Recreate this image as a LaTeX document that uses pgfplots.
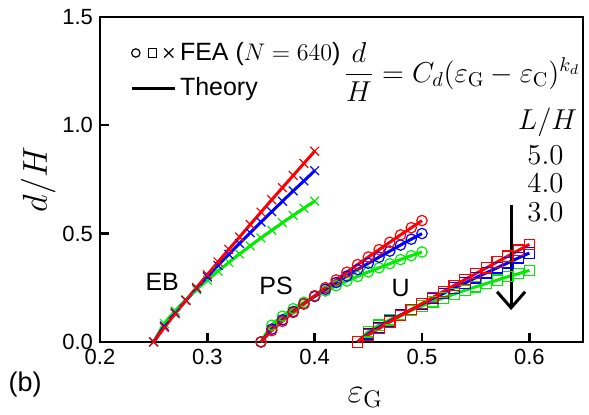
\documentclass[border=0pt]{standalone}
\usepackage{amsmath}
\usepackage[no-math]{fontspec}
\setmainfont{Liberation Sans}
\usepackage{pgfplots}
\pgfplotsset{compat=1.18}
\usepackage{pgfplotstable}
\usetikzlibrary{arrows.meta}

\definecolor{cR}{rgb}{1,0,0}
\definecolor{cB}{rgb}{0,0,1}
\definecolor{cG}{rgb}{0,0.93,0}

% columns: eps_G, L/H = 5.0 (r), 4.0 (b), 3.0 (g)
\pgfplotstableread{
x    r     b     g
0.25 0.000 0.000 0.000
0.26 0.067 0.073 0.085
0.27 0.130 0.134 0.143
0.28 0.191 0.192 0.194
0.29 0.251 0.247 0.241
0.30 0.310 0.300 0.285
0.31 0.369 0.353 0.327
0.32 0.427 0.404 0.367
0.33 0.484 0.454 0.406
0.34 0.542 0.504 0.443
0.35 0.599 0.553 0.480
0.36 0.656 0.601 0.515
0.37 0.712 0.649 0.550
0.38 0.768 0.697 0.584
0.39 0.824 0.743 0.617
0.40 0.880 0.790 0.650
}\ebdata

\pgfplotstableread{
x    r     b     g
0.35 0.000 0.000 0.000
0.36 0.052 0.059 0.077
0.37 0.095 0.102 0.119
0.38 0.136 0.140 0.153
0.39 0.175 0.176 0.183
0.40 0.213 0.210 0.210
0.41 0.250 0.243 0.235
0.42 0.286 0.274 0.259
0.43 0.322 0.304 0.281
0.44 0.357 0.334 0.302
0.45 0.392 0.363 0.323
0.46 0.426 0.391 0.342
0.47 0.460 0.419 0.361
0.48 0.494 0.447 0.380
0.49 0.527 0.474 0.398
0.50 0.560 0.500 0.415
}\psdata

\pgfplotstableread{
x    r     b     g
0.44 0.000 0.000 0.000
0.45 0.032 0.037 0.047
0.46 0.062 0.067 0.077
0.47 0.092 0.096 0.102
0.48 0.121 0.123 0.125
0.49 0.149 0.149 0.146
0.50 0.177 0.175 0.166
0.51 0.205 0.200 0.185
0.52 0.233 0.224 0.203
0.53 0.261 0.249 0.221
0.54 0.288 0.272 0.238
0.55 0.315 0.296 0.254
0.56 0.342 0.319 0.270
0.57 0.369 0.342 0.285
0.58 0.396 0.365 0.301
0.59 0.423 0.388 0.315
0.60 0.450 0.410 0.330
}\udata

\pgfplotsset{
  fea/.style={only marks, mark size=2.6pt, mark options={line width=0.6pt, fill=none, solid}},
  feax/.style={only marks, mark=x, mark size=3.1pt, mark options={line width=0.6pt, solid}},
  thy/.style={no marks, smooth, line width=1.5pt},
}

\begin{document}
\begin{tikzpicture}
\begin{axis}[
  scale only axis, width=241.5pt, height=162.5pt,
  xmin=0.2, xmax=0.65, ymin=0, ymax=1.5,
  xtick={0.2,0.3,0.4,0.5,0.6}, ytick={0,0.5,1,1.5},
  tick align=inside, xtick pos=bottom, ytick pos=left,
  major tick length=4.5pt,
  tick style={black, line width=1.2pt},
  axis line style={line width=1.2pt},
  /pgf/number format/assume math mode=true,
  /pgf/number format/fixed, /pgf/number format/fixed zerofill,
  /pgf/number format/precision=1,
  tick label style={font=\fontsize{11}{13}\selectfont},
  xlabel={$\varepsilon_{\mathrm{G}}$},
  xlabel style={at={(axis description cs:0.549,-0.172)}, anchor=center, font=\fontsize{17}{19}\selectfont},
  ylabel={$d/H$},
  ylabel style={at={(axis description cs:-0.128,0.5)}, anchor=center, font=\fontsize{17}{19}\selectfont},
  clip=false,
  legend style={at={(axis description cs:0.062,0.935)}, anchor=north west, draw=none, fill=none,
    inner sep=0pt, font=\fontsize{12.5}{14}\selectfont, row sep=3pt, cells={anchor=west}},
]
% full figure extent
\path (axis description cs:-0.207,-0.2215) rectangle (axis description cs:1.0124,1.052);

\addlegendimage{legend image code/.code={
  \draw[black, line width=0.6pt] (0.07cm,0cm) circle (2.1pt);
  \draw[black, line width=0.6pt] (0.36cm-2.1pt,-2.1pt) rectangle (0.36cm+2.1pt,2.1pt);
  \draw[black, line width=0.6pt] (0.65cm-2.3pt,-2.3pt) -- (0.65cm+2.3pt,2.3pt)
        (0.65cm-2.3pt,2.3pt) -- (0.65cm+2.3pt,-2.3pt);}}
\addlegendentry{FEA ($N = 640$)}
\addlegendimage{legend image code/.code={
  \draw[black, line width=1.5pt] (0cm,0cm) -- (0.75cm,0cm);}}
\addlegendentry{Theory}

% EB
\addplot[feax, cG] table[x=x, y=g] {\ebdata};
\addplot[thy, cG] table[x=x, y=g] {\ebdata};
\addplot[feax, cB] table[x=x, y=b] {\ebdata};
\addplot[thy, cB] table[x=x, y=b] {\ebdata};
\addplot[feax, cR] table[x=x, y=r] {\ebdata};
\addplot[thy, cR] table[x=x, y=r] {\ebdata};
% PS
\addplot[fea, cG, mark=o] table[x=x, y=g] {\psdata};
\addplot[thy, cG] table[x=x, y=g] {\psdata};
\addplot[fea, cB, mark=o] table[x=x, y=b] {\psdata};
\addplot[thy, cB] table[x=x, y=b] {\psdata};
\addplot[fea, cR, mark=o] table[x=x, y=r] {\psdata};
\addplot[thy, cR] table[x=x, y=r] {\psdata};
% U
\addplot[fea, cG, mark=square] table[x=x, y=g] {\udata};
\addplot[thy, cG] table[x=x, y=g] {\udata};
\addplot[fea, cB, mark=square] table[x=x, y=b] {\udata};
\addplot[thy, cB] table[x=x, y=b] {\udata};
\addplot[fea, cR, mark=square] table[x=x, y=r] {\udata};
\addplot[thy, cR] table[x=x, y=r] {\udata};

\node[font=\fontsize{12.5}{14}\selectfont] at (axis cs:0.258,0.276) {EB};
\node[font=\fontsize{12.5}{14}\selectfont] at (axis cs:0.364,0.26) {PS};
\node[font=\fontsize{12.5}{14}\selectfont] at (axis cs:0.48,0.25) {U};

\node[font=\fontsize{14}{16}\selectfont, anchor=east, inner sep=1pt]
  at (axis description cs:0.999,0.83)
  {$\dfrac{d}{H} = C_d(\varepsilon_{\mathrm{G}} - \varepsilon_{\mathrm{C}})^{k_d}$};

\node[font=\fontsize{14}{16}\selectfont] at (axis cs:0.617,1.014) {$L/H$};
\node[font=\fontsize{14}{16}\selectfont] at (axis cs:0.615,0.862) {$5.0$};
\node[font=\fontsize{14}{16}\selectfont] at (axis cs:0.615,0.733) {$4.0$};
\node[font=\fontsize{14}{16}\selectfont] at (axis cs:0.615,0.599) {$3.0$};

\draw[line width=1.5pt, -{Straight Barb[length=8pt,width=14pt]}]
  (axis cs:0.583,0.631) -- (axis cs:0.583,0.147);

\node[font=\fontsize{13.5}{15}\selectfont] at (axis description cs:-0.155,-0.132) {(b)};
\end{axis}
\end{tikzpicture}
\end{document}
